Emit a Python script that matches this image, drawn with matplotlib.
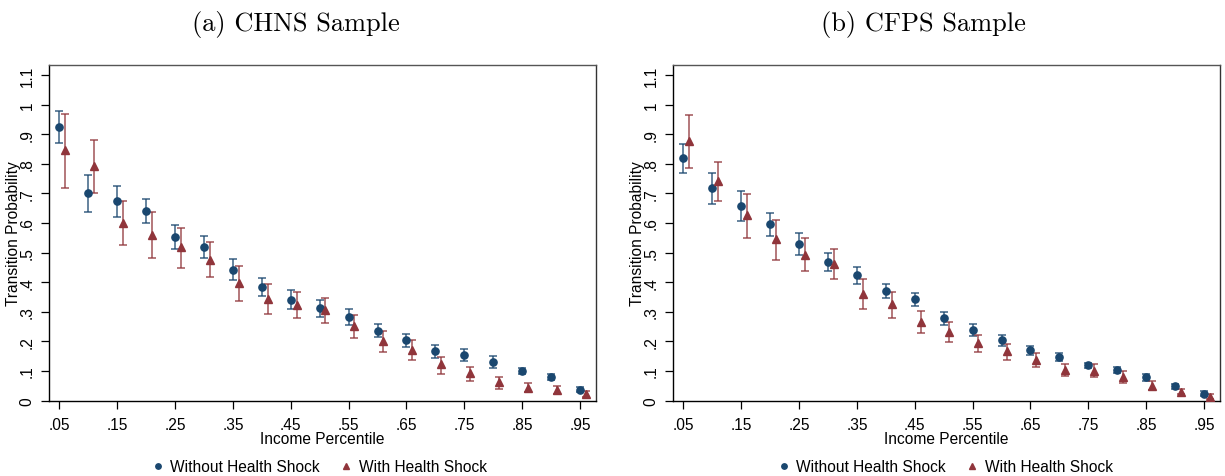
import matplotlib
matplotlib.use("Agg")
import matplotlib.pyplot as plt
import numpy as np

# x positions (income percentile)
pct = [0.05, 0.10, 0.15, 0.20, 0.25, 0.30, 0.35, 0.40, 0.45, 0.50,
       0.55, 0.60, 0.65, 0.70, 0.75, 0.80, 0.85, 0.90, 0.95]
shock_offset = 0.01

# Panel (a) CHNS
chns_no = [0.923, 0.700, 0.673, 0.640, 0.554, 0.519, 0.443, 0.384, 0.341, 0.312,
           0.283, 0.236, 0.204, 0.167, 0.154, 0.132, 0.100, 0.079, 0.037]
chns_no_lo = [0.869, 0.636, 0.620, 0.599, 0.512, 0.481, 0.408, 0.354, 0.310, 0.284,
              0.257, 0.215, 0.181, 0.145, 0.133, 0.111, 0.089, 0.069, 0.029]
chns_no_hi = [0.977, 0.763, 0.726, 0.682, 0.595, 0.555, 0.479, 0.415, 0.373, 0.341,
              0.309, 0.258, 0.226, 0.188, 0.173, 0.150, 0.111, 0.090, 0.045]
chns_sh = [0.846, 0.793, 0.600, 0.561, 0.518, 0.476, 0.396, 0.343, 0.324, 0.306,
           0.252, 0.202, 0.172, 0.123, 0.092, 0.063, 0.044, 0.037, 0.023]
chns_sh_lo = [0.720, 0.702, 0.526, 0.482, 0.449, 0.417, 0.338, 0.294, 0.278, 0.262,
              0.211, 0.166, 0.137, 0.090, 0.065, 0.041, 0.028, 0.021, 0.011]
chns_sh_hi = [0.967, 0.881, 0.675, 0.636, 0.584, 0.535, 0.454, 0.393, 0.368, 0.348,
              0.289, 0.236, 0.204, 0.148, 0.115, 0.079, 0.059, 0.048, 0.034]

# Panel (b) CFPS
cfps_no = [0.819, 0.717, 0.656, 0.596, 0.529, 0.467, 0.425, 0.370, 0.343, 0.278,
           0.239, 0.205, 0.170, 0.148, 0.119, 0.102, 0.079, 0.048, 0.024]
cfps_no_lo = [0.769, 0.665, 0.606, 0.555, 0.493, 0.438, 0.395, 0.347, 0.321, 0.256,
              0.218, 0.186, 0.155, 0.135, 0.110, 0.092, 0.068, 0.039, 0.016]
cfps_no_hi = [0.868, 0.769, 0.707, 0.635, 0.566, 0.499, 0.453, 0.395, 0.365, 0.301,
              0.260, 0.223, 0.186, 0.161, 0.128, 0.113, 0.090, 0.057, 0.032]
cfps_sh = [0.876, 0.743, 0.628, 0.545, 0.493, 0.462, 0.361, 0.325, 0.267, 0.233,
           0.194, 0.167, 0.137, 0.105, 0.101, 0.079, 0.051, 0.030, 0.014]
cfps_sh_lo = [0.785, 0.676, 0.551, 0.476, 0.437, 0.410, 0.311, 0.279, 0.229, 0.198,
              0.163, 0.139, 0.113, 0.083, 0.079, 0.060, 0.036, 0.021, 0.007]
cfps_sh_hi = [0.965, 0.807, 0.699, 0.609, 0.550, 0.512, 0.411, 0.368, 0.302, 0.267,
              0.222, 0.190, 0.162, 0.125, 0.123, 0.099, 0.066, 0.041, 0.021]

titles = ["(a) CHNS Sample", "(b) CFPS Sample"]
xtick_vals = [0.05, 0.15, 0.25, 0.35, 0.45, 0.55, 0.65, 0.75, 0.85, 0.95]
xtick_labels = [".05", ".15", ".25", ".35", ".45", ".55", ".65", ".75", ".85", ".95"]
ytick_vals = [0, 0.1, 0.2, 0.3, 0.4, 0.5, 0.6, 0.7, 0.8, 0.9, 1.0, 1.1]
ytick_labels = ["0", ".1", ".2", ".3", ".4", ".5", ".6", ".7", ".8", ".9", "1", "1.1"]
legend_labels = ["Without Health Shock", "With Health Shock"]

BLUE = "#1a476f"
RED = "#90353b"
FS = 11.2

plt.rcParams['font.family'] = ['Liberation Sans', 'DejaVu Sans']

fig = plt.figure(figsize=(12.25, 4.77), dpi=100)
W, H = 1225, 477
axes_px = [(49.3, 596.0), (673.3, 1220.0)]
top_px, bot_px = 65.7, 401.7
title_cx = [296, 923]
legend_shift = [-5, -3]

panels = [
    (chns_no, chns_no_lo, chns_no_hi, chns_sh, chns_sh_lo, chns_sh_hi),
    (cfps_no, cfps_no_lo, cfps_no_hi, cfps_sh, cfps_sh_lo, cfps_sh_hi),
]

x0 = np.array(pct)
x1 = x0 + shock_offset

for i, (data, (lpx, rpx)) in enumerate(zip(panels, axes_px)):
    no, no_lo, no_hi, sh, sh_lo, sh_hi = [np.array(d) for d in data]
    ax = fig.add_axes([lpx / W, 1 - bot_px / H, (rpx - lpx) / W, (bot_px - top_px) / H])
    ax.errorbar(x0, no, yerr=[no - no_lo, no_hi - no], fmt='none', ecolor=BLUE,
                elinewidth=1.1, capsize=2.9, capthick=1.1, alpha=0.85)
    ax.errorbar(x1, sh, yerr=[sh - sh_lo, sh_hi - sh], fmt='none', ecolor=RED,
                elinewidth=1.1, capsize=2.9, capthick=1.1, alpha=0.85)
    h1, = ax.plot(x0, no, 'o', color=BLUE, markersize=5.2, linestyle='none', zorder=5)
    h2, = ax.plot(x1, sh, '^', color=RED, markersize=5.8, linestyle='none', zorder=5)
    ax.set_xlim(0.0327, 0.9775)
    ax.set_ylim(0, 1.1 * (bot_px - top_px) / (bot_px - 76.0))
    ax.set_xticks(xtick_vals)
    ax.set_xticklabels(xtick_labels, fontsize=FS)
    ax.set_yticks(ytick_vals)
    ax.set_yticklabels(ytick_labels, fontsize=FS, rotation=90, va='center')
    ax.tick_params(axis='both', direction='out', length=6, width=0.9, color='black')
    ax.tick_params(axis='x', pad=6)
    ax.tick_params(axis='y', pad=4.5)
    for s in ax.spines.values():
        s.set_linewidth(1.0)
        s.set_color('black')
    ax.spines['top'].set_color('#555555')
    ax.spines['right'].set_color('#333333')
    ax.set_xlabel("Income Percentile", fontsize=FS, labelpad=-1)
    ax.set_ylabel("Transition Probability", fontsize=FS, va='center')
    ax.yaxis.set_label_coords(-0.066, 0.5)
    fig.text(title_cx[i] / W, 1 - 24 / H, titles[i], fontfamily='cmr10', fontsize=19,
             ha='center', va='center')
    cx = (lpx + rpx) / 2 + legend_shift[i]
    fig.legend([h1, h2], legend_labels, loc='center', bbox_to_anchor=(cx / W, 1 - 468 / H),
               ncol=2, frameon=False, fontsize=FS, handletextpad=0.2, columnspacing=1.1,
               markerscale=0.75, handlelength=1.2, borderpad=0)

fig.savefig("out.png", dpi=100)
